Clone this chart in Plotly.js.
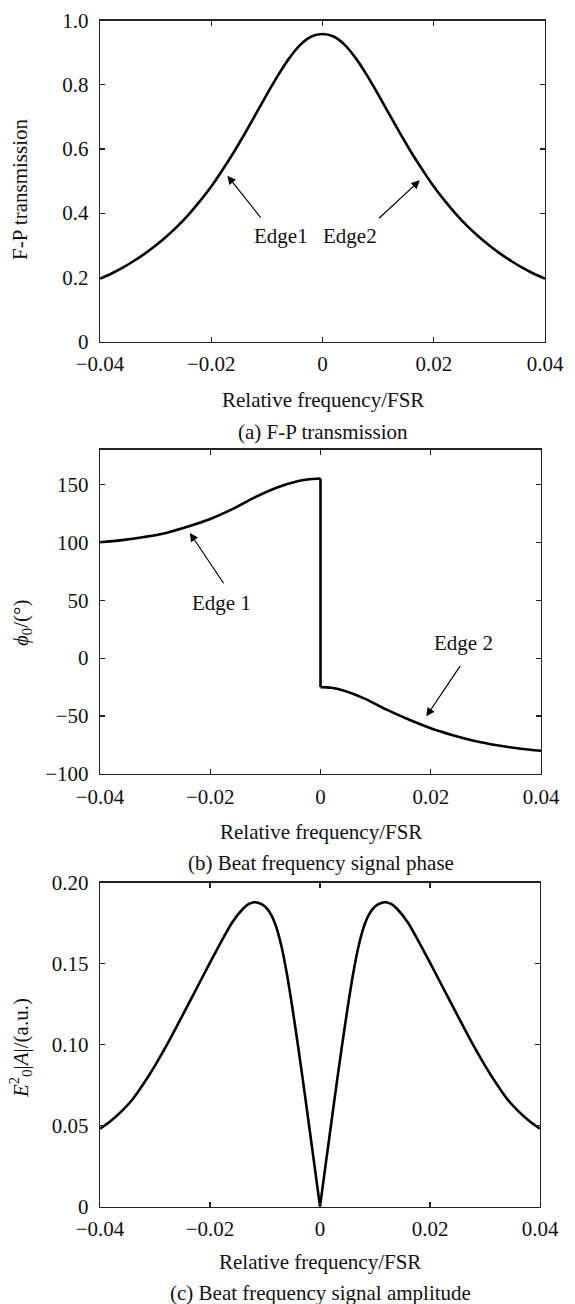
<!DOCTYPE html>
<html>
<head>
<meta charset="utf-8">
<script src="https://cdn.plot.ly/plotly-3.0.1.min.js"></script>
<style>html,body{margin:0;padding:0;background:#fff;}#chart{width:575px;height:1304px;}</style>
</head>
<body>
<div id="chart"></div>
<script>
// ---------- data ----------
// (a) F-P transmission
const xA = [-0.040,-0.038,-0.036,-0.034,-0.032,-0.030,-0.028,-0.026,-0.024,-0.022,-0.020,-0.018,-0.016,-0.014,-0.012,-0.010,-0.008,-0.006,-0.004,-0.002,0,
            0.002,0.004,0.006,0.008,0.010,0.012,0.014,0.016,0.018,0.020,0.022,0.024,0.026,0.028,0.030,0.032,0.034,0.036,0.038,0.040];
const yA = [0.196,0.211,0.229,0.250,0.273,0.299,0.328,0.360,0.397,0.438,0.483,0.534,0.588,0.647,0.708,0.770,0.829,0.882,0.924,0.950,0.958,
            0.950,0.924,0.882,0.829,0.770,0.708,0.647,0.588,0.534,0.483,0.438,0.397,0.360,0.328,0.299,0.273,0.250,0.229,0.211,0.196];

// (b) beat frequency signal phase (degrees): branch left of 0 and branch right of 0
const xB1 = [-0.040,-0.036,-0.032,-0.028,-0.024,-0.020,-0.016,-0.012,-0.008,-0.004,-0.002,0];
const yB1 = [100,101.8,104.5,108,113.5,120,128.5,138.5,147,152.8,154.4,155];
const xB2 = [0,0.002,0.004,0.008,0.012,0.016,0.020,0.024,0.028,0.032,0.036,0.040];
const yB2 = [-25,-25.6,-27.8,-35,-44.5,-53,-60.5,-66.5,-71.5,-75.2,-78,-80];

// (c) beat frequency signal amplitude (a.u.)
const xC1 = [-0.040,-0.038,-0.036,-0.034,-0.032,-0.030,-0.028,-0.026,-0.024,-0.022,-0.020,-0.018,-0.016,-0.014,-0.013,-0.012,-0.011,-0.010,-0.009,-0.008,-0.007,-0.006,-0.005,-0.004,-0.003,-0.002,-0.001,0];
const yC1 = [0.048,0.053,0.059,0.0665,0.0762,0.087,0.0988,0.1115,0.1245,0.1375,0.1505,0.1632,0.1752,0.1838,0.1866,0.1878,0.1872,0.1852,0.1808,0.173,0.1605,0.1432,0.1222,0.0992,0.0752,0.0503,0.0252,0];
const xC2 = [0,0.001,0.002,0.003,0.004,0.005,0.006,0.007,0.008,0.009,0.010,0.011,0.012,0.013,0.014,0.016,0.018,0.020,0.022,0.024,0.026,0.028,0.030,0.032,0.034,0.036,0.038,0.040];
const yC2 = [0,0.0252,0.0503,0.0752,0.0992,0.1222,0.1432,0.1605,0.173,0.1808,0.1852,0.1872,0.1878,0.1866,0.1838,0.1752,0.1632,0.1505,0.1375,0.1245,0.1115,0.0988,0.087,0.0762,0.0665,0.059,0.053,0.048];

// tick values / labels
const xTickVals = [-0.04,-0.02,0,0.02,0.04];
const xTickText = ['\u22120.04','\u22120.02','0','0.02','0.04'];
const yTickValsA = [0,0.2,0.4,0.6,0.8,1.0];
const yTickTextA = ['0','0.2','0.4','0.6','0.8','1.0'];
const yTickValsB = [-100,-50,0,50,100,150];
const yTickTextB = ['\u2212100','\u221250','0','50','100','150'];
const yTickValsC = [0,0.05,0.10,0.15,0.20];
const yTickTextC = ['0','0.05','0.10','0.15','0.20'];

// texts
const xTitle = 'Relative frequency/FSR';
const captions = ['(a) F-P transmission','(b) Beat frequency signal phase','(c) Beat frequency signal amplitude'];
const yTitles = ['F-P transmission','<i>\u03d5</i><sub>0</sub>/(\u00b0)','<i>E</i><sup>2</sup><sub>0</sub>|<i>A</i>|/(a.u.)'];

// ---------- figure ----------
const W = 575, H = 1304;
const FONT = 'Liberation Serif';
const px = v => v / W;
const py = v => 1 - v / H;

const lineStyle = {color:'#000', width:2.6};
const sp = (s) => Object.assign({shape:'spline', smoothing:s}, lineStyle);
const traces = [
  {x:xA, y:yA, xaxis:'x', yaxis:'y', mode:'lines', line:sp(1)},
  {x:xB1, y:yB1, xaxis:'x2', yaxis:'y2', mode:'lines', line:sp(1)},
  {x:[xB1[xB1.length-1], xB2[0]], y:[yB1[yB1.length-1], yB2[0]], xaxis:'x2', yaxis:'y2', mode:'lines', line:lineStyle},
  {x:xB2, y:yB2, xaxis:'x2', yaxis:'y2', mode:'lines', line:sp(1)},
  {x:xC1, y:yC1, xaxis:'x3', yaxis:'y3', mode:'lines', line:sp(0.8)},
  {x:xC2, y:yC2, xaxis:'x3', yaxis:'y3', mode:'lines', line:sp(0.8)}
];

function xAxis(domain, anchor) {
  return {domain:domain, anchor:anchor, range:[-0.04,0.04], tickmode:'array', tickvals:xTickVals, ticktext:xTickText,
    ticks:'inside', ticklen:5, tickwidth:1.2, tickcolor:'#222', showline:true, linecolor:'#222', linewidth:1.3,
    mirror:'ticks', showgrid:false, zeroline:false, ticklabelstandoff:3,
    tickfont:{family:FONT, size:21, color:'#111'}, fixedrange:true};
}
function yAxis(domain, anchor, range, vals, text) {
  return {domain:domain, anchor:anchor, range:range, tickmode:'array', tickvals:vals, ticktext:text,
    ticks:'inside', ticklen:5, tickwidth:1.2, tickcolor:'#222', showline:true, linecolor:'#222', linewidth:1.3,
    mirror:'ticks', showgrid:false, zeroline:false, ticklabelstandoff:6,
    tickfont:{family:FONT, size:21, color:'#111'}, fixedrange:true};
}

const txt = () => ({family:FONT, size:21, color:'#111'});
const annotations = [];
// axis titles and captions
[[322.5, 399.5, 431.7],[320.5, 832, 863],[320, 1261.5, 1293]].forEach((p, i) => {
  annotations.push({xref:'paper', yref:'paper', x:px(p[0]), y:py(p[1]), text:xTitle, showarrow:false, xanchor:'center', yanchor:'middle', font:txt()});
  annotations.push({xref:'paper', yref:'paper', x:px(p[0]), y:py(p[2]), text:captions[i], showarrow:false, xanchor:'center', yanchor:'middle', font:txt()});
});
[[20, 190],[22, 623],[20, 1048]].forEach((p, i) => {
  annotations.push({xref:'paper', yref:'paper', x:px(p[0]), y:py(p[1]), text:yTitles[i], textangle:-90, showarrow:false, xanchor:'center', yanchor:'middle', font:txt()});
});
// arrows (head x,y ; tail ax,ay in data units)
const arrow = (xr, yr, x, y, ax, ay) => ({xref:xr, yref:yr, axref:xr, ayref:yr, x:x, y:y, ax:ax, ay:ay, text:'', showarrow:true,
  arrowhead:2, arrowsize:1.4, arrowwidth:1.2, arrowcolor:'#000', standoff:0, startstandoff:0});
annotations.push(arrow('x','y', -0.0171, 0.5165, -0.0109, 0.3816));
annotations.push(arrow('x','y', 0.0175, 0.502, 0.0099, 0.3794));
annotations.push(arrow('x2','y2', -0.0237, 108, -0.0174, 63.3));
annotations.push(arrow('x2','y2', 0.0192, -50.2, 0.0255, -5.7));
// arrow labels
const label = (xr, yr, x, y, t) => ({xref:xr, yref:yr, x:x, y:y, text:t, showarrow:false, xanchor:'center', yanchor:'middle', font:txt()});
annotations.push(label('x','y', -0.0075, 0.329, 'Edge1'));
annotations.push(label('x','y', 0.0049, 0.329, 'Edge2'));
annotations.push(label('x2','y2', -0.018, 47.6, 'Edge 1'));
annotations.push(label('x2','y2', 0.026, 13, 'Edge 2'));

const layout = {
  width:W, height:H, autosize:false, margin:{l:0, r:0, t:0, b:0},
  paper_bgcolor:'#fff', plot_bgcolor:'#fff', showlegend:false,
  font:{family:FONT, size:21, color:'#111'},
  xaxis: xAxis([px(100), px(545)], 'y'),
  yaxis: yAxis([py(341.5), py(20.5)], 'x', [0,1], yTickValsA, yTickTextA),
  xaxis2: xAxis([px(100), px(541)], 'y2'),
  yaxis2: yAxis([py(774), py(449.5)], 'x2', [-100,180], yTickValsB, yTickTextB),
  xaxis3: xAxis([px(100), px(540)], 'y3'),
  yaxis3: yAxis([py(1206.5), py(882.5)], 'x3', [0,0.2], yTickValsC, yTickTextC),
  annotations: annotations
};

Plotly.newPlot('chart', traces, layout, {displayModeBar:false, staticPlot:true});
</script>
</body>
</html>
